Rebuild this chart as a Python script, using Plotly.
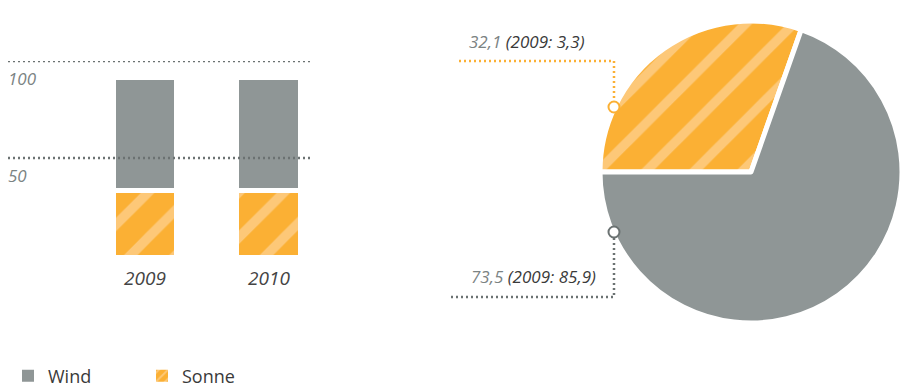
import plotly.graph_objects as go

# ---- data ----
years = ["2009", "2010"]
bar_sonne = [33, 33]
bar_wind = [58.5, 58.5]
grid_vals = [50, 100]
grid_labels = ["50", "100"]
pie_labels = ["Sonne", "Wind"]
pie_values = [32.1, 73.5]
pie_texts = ["32,1", "73,5"]
prev_texts = ["(2009: 3,3)", "(2009: 85,9)"]
legend_names = ["Wind", "Sonne"]

GRAY = "#8f9696"
ORANGE = "#fbb034"
STRIPE = "#fdc878"
TXT_GRAY = "#7b8383"
TXT_DARK = "#3a3a3a"
GRID = "#6b7272"
FONT = "Open Sans"
W, H = 902, 387

def px(x):
    return x / W

def py(y):
    return 1 - y / H

stripes = dict(shape="/", fgcolor=STRIPE, bgcolor=ORANGE, size=32, solidity=0.3,
               fillmode="replace")

fig = go.Figure()

fig.add_trace(go.Bar(
    x=years, y=bar_sonne, name="Sonne", showlegend=False,
    width=59 / 124,
    marker=dict(color=ORANGE, line=dict(width=0, color="white"),
                pattern=stripes, cornerradius=3),
    hoverinfo="skip",
))
fig.add_trace(go.Bar(
    x=years, y=bar_wind, name="Wind", showlegend=False,
    width=64 / 124,
    marker=dict(color=GRAY, line=dict(width=5, color="white"), cornerradius=4),
    hoverinfo="skip",
))
# legend entries
fig.add_trace(go.Bar(x=[years[0]], y=[0], name=legend_names[0], hoverinfo="skip",
                     marker=dict(color=GRAY, line=dict(width=0)), legendrank=1))
fig.add_trace(go.Bar(x=[years[0]], y=[0], name=legend_names[1], hoverinfo="skip",
                     marker=dict(color=ORANGE, line=dict(width=0), pattern=dict(
                         shape="/", fgcolor=STRIPE, bgcolor=ORANGE, size=8,
                         solidity=0.3, fillmode="replace")), legendrank=2))

fig.add_trace(go.Pie(
    labels=pie_labels, values=pie_values,
    sort=False, direction="clockwise", rotation=270,
    marker=dict(colors=[ORANGE, GRAY], line=dict(color="white", width=5),
                pattern=dict(shape=["/", ""], fgcolor=STRIPE, bgcolor=ORANGE,
                             size=34, solidity=0.28, fillmode="replace")),
    textinfo="none", hoverinfo="skip", showlegend=False,
    domain=dict(x=[px(600), 1.0], y=[py(323), py(21)]),
))

shapes = []
annotations = []
# dotted grid lines over bars
for v, lab in zip(grid_vals, grid_labels):
    shapes.append(dict(type="line", xref="paper", yref="y", x0=px(8), x1=px(312),
                       y0=v, y1=v, line=dict(color=GRID, width=2.5, dash="2px,3px"),
                       layer="above"))
    annotations.append(dict(xref="paper", yref="y", x=px(6), y=v, yshift=-4,
                            text="<i>" + lab + "</i>", showarrow=False,
                            xanchor="left", yanchor="top",
                            font=dict(family=FONT, size=17, color=TXT_GRAY)))

# leader lines for pie
shapes.append(dict(type="path", xref="paper", yref="paper",
                   path=f"M {px(459)} {py(61)} L {px(614)} {py(61)} L {px(614)} {py(101)}",
                   line=dict(color=ORANGE, width=2.5, dash="2px,3px")))
shapes.append(dict(type="circle", xref="paper", yref="paper",
                   x0=px(608.5), x1=px(619.5), y0=py(112.5), y1=py(101.5),
                   fillcolor="white", line=dict(color=ORANGE, width=2)))
shapes.append(dict(type="path", xref="paper", yref="paper",
                   path=f"M {px(614)} {py(238)} L {px(614)} {py(297)} L {px(450)} {py(297)}",
                   line=dict(color=GRID, width=2.5, dash="2px,3px")))
shapes.append(dict(type="circle", xref="paper", yref="paper",
                   x0=px(608.5), x1=px(619.5), y0=py(237.5), y1=py(226.5),
                   fillcolor="white", line=dict(color=GRID, width=2)))

annotations.append(dict(xref="paper", yref="paper", x=px(587), y=py(42),
                        text=f"<i><span style='color:{TXT_GRAY}'>{pie_texts[0]}</span> {prev_texts[0]}</i>",
                        showarrow=False, xanchor="right", yanchor="middle",
                        font=dict(family=FONT, size=17, color=TXT_DARK)))
annotations.append(dict(xref="paper", yref="paper", x=px(598), y=py(276),
                        text=f"<i><span style='color:{TXT_GRAY}'>{pie_texts[1]}</span> {prev_texts[1]}</i>",
                        showarrow=False, xanchor="right", yanchor="middle",
                        font=dict(family=FONT, size=17, color=TXT_DARK)))

fig.update_layout(
    width=W, height=H,
    margin=dict(l=0, r=0, t=0, b=0, autoexpand=False),
    paper_bgcolor="white", plot_bgcolor="white",
    barmode="stack",
    font=dict(family=FONT, color=TXT_DARK),
    xaxis=dict(domain=[px(8), px(312)], type="category", categoryarray=years,
               range=[-1.105, 1.347], showgrid=False, zeroline=False, showline=False,
               ticks="", ticklabelstandoff=10,
               tickfont=dict(family=FONT, size=19, color="#444444", style="italic")),
    yaxis=dict(domain=[py(255), py(61)], range=[0, 100], showgrid=False,
               zeroline=False, showticklabels=False, ticks=""),
    showlegend=True,
    legend=dict(orientation="h", x=px(8), y=py(376), xanchor="left", yanchor="middle",
                entrywidth=89, entrywidthmode="pixels", traceorder="normal",
                font=dict(family=FONT, size=18, color=TXT_DARK),
                bgcolor="rgba(0,0,0,0)"),
    shapes=shapes, annotations=annotations,
)

fig.write_html("out.html", config={"displayModeBar": False},
               post_script="document.body.style.margin='0px';")
